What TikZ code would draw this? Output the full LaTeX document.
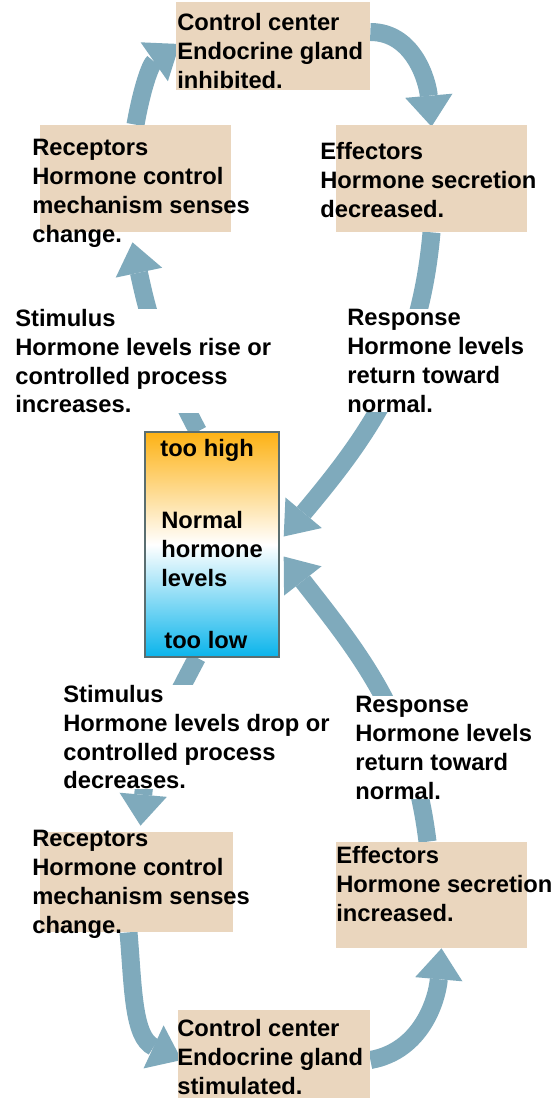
\documentclass[tikz,border=0pt]{standalone}
\usepackage{fontspec}
\setmainfont{Liberation Sans}
\usepackage{tikz}
\usetikzlibrary{arrows.meta, positioning, fit, backgrounds}

\definecolor{boxtan}{RGB}{234,214,190}
\definecolor{arrowblue}{RGB}{127,170,188}
\definecolor{barhigh}{RGB}{253,178,20}
\definecolor{barlow}{RGB}{10,180,235}
\definecolor{baredge}{RGB}{90,110,112}

\begin{document}
\begin{tikzpicture}[x=0.02cm, y=-0.02cm, every node/.style={font=\bfseries\fontsize{13.5}{16.4}\selectfont}]

% Styles
\tikzstyle{box} = [fill=boxtan, inner sep=0pt]
\tikzstyle{txt} = [anchor=north west, align=left, inner sep=0pt]
\tikzstyle{covertxt} = [txt, fill=white]
\tikzstyle{flow} = [draw=arrowblue, line width=0.36cm, -{Triangle[width=0.95cm,length=0.62cm,line width=0pt]}]

\useasboundingbox (0,0) rectangle (558,1098);

% Boxes
\node[box, fit={(176,2) (370,90)}] (ctltop) {};
\node[box, fit={(40,125) (231,232)}] (rectop) {};
\node[box, fit={(336,125) (527,232)}] (efftop) {};
\node[box, fit={(40,832) (233,932)}] (recbot) {};
\node[box, fit={(336,842) (527,948)}] (effbot) {};
\node[box, fit={(178,1010) (370,1098)}] (ctlbot) {};
\node[draw=baredge, line width=0.8pt, inner sep=0pt, top color=barhigh, bottom color=barlow, middle color=white, fit={(145,432) (279,657)}] (bar) {};

% Texts
\node[txt] (ctltoptxt) at (177,13) {Control center\\Endocrine gland\\inhibited.};
\node[txt] (rectoptxt) at (32,139) {Receptors\\Hormone control\\mechanism senses\\change.};
\node[txt] (efftoptxt) at (320,142) {Effectors\\Hormone secretion\\decreased.};
\node[covertxt] (stimtop) at (15,309) {Stimulus\\Hormone levels rise or\\controlled process\\increases.};
\node[covertxt] (resptop) at (347,309) {Response\\Hormone levels\\return toward\\normal.};
\node[txt] (toohigh) at (160,439) {too high};
\node[txt] (normal) at (161,511) {Normal\\hormone\\levels};
\node[txt] (toolow) at (164,631) {too low};
\node[covertxt] (stimbot) at (63,685) {Stimulus\\Hormone levels drop or\\controlled process\\decreases.};
\node[covertxt] (respbot) at (355,696) {Response\\Hormone levels\\return toward\\normal.};
\node[txt] (recbottxt) at (32,830) {Receptors\\Hormone control\\mechanism senses\\change.};
\node[txt] (effbottxt) at (336,846) {Effectors\\Hormone secretion\\increased.};
\node[txt] (ctlbottxt) at (177,1019) {Control center\\Endocrine gland\\stimulated.};

% Arrows
\begin{scope}[on background layer]
\draw[flow] (rectop.north) to[out=80,in=215] ([shift={(4,-2)}]ctltop.west);
\draw[flow] ([shift={(0,-14)}]ctltop.east) to[out=0,in=95] ([shift={(0,2)}]efftop.north);
\draw[flow] (efftop.south) to[out=-95,in=50] ([shift={(4,-8)}]bar.east);
\draw[flow] ([shift={(-14,0)}]bar.north) to[out=118,in=-78] ([shift={(-3,10)}]rectop.south);
\draw[flow] ([shift={(-15,0)}]bar.south) to[out=-118,in=85] ([shift={(4,-6)}]recbot.north);
\draw[flow] ([shift={(-8,0)}]recbot.south) to[out=-85,in=155] ([shift={(4,6)}]ctlbot.west);
\draw[flow] ([shift={(0,6)}]ctlbot.east) to[out=10,in=-95] ([shift={(10,0)}]effbot.south);
\draw[flow] ([shift={(-4,0)}]effbot.north) to[out=97,in=-52] ([shift={(4,12)}]bar.east);
\end{scope}

\end{tikzpicture}
\end{document}
